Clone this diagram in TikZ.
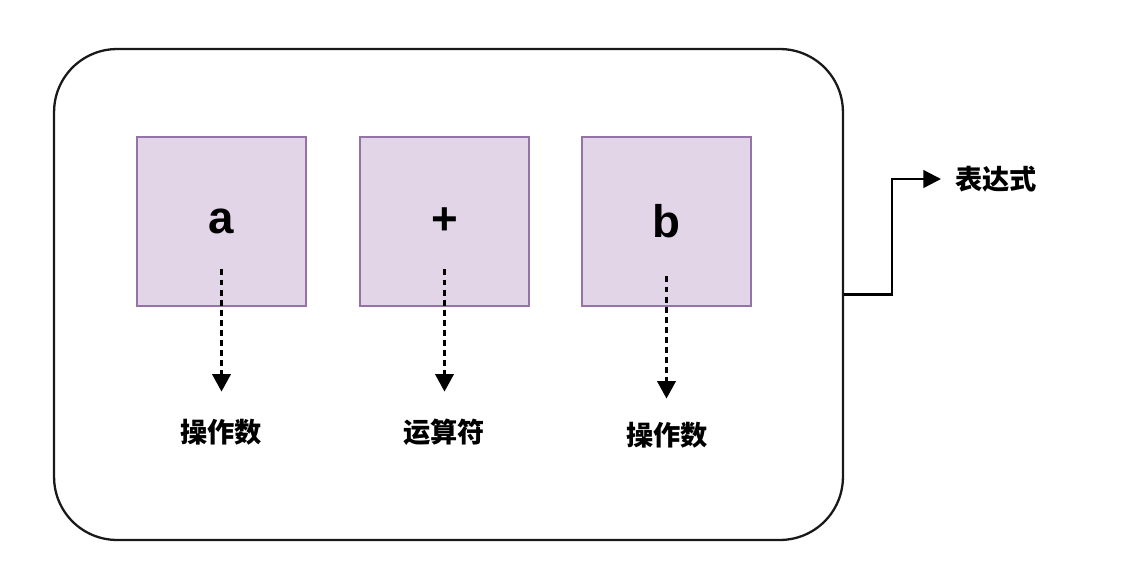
\documentclass[tikz,border=0pt]{standalone}
\usepackage{fontspec}
\setmainfont{Liberation Sans}
\newfontfamily\cjk{Noto Sans CJK SC}
\usetikzlibrary{arrows.meta}
\definecolor{boxfill}{HTML}{E1D5E7}
\definecolor{boxline}{HTML}{9673A6}
\tikzset{
  termbox/.style={draw=boxline, line width=0.7pt, fill=boxfill, minimum width=3.38cm,
    minimum height=3.38cm, inner sep=0pt, font=\fontsize{26}{30}\selectfont\bfseries},
  rolelabel/.style={inner sep=0pt, font=\cjk\bfseries\fontsize{15.5}{18}\selectfont},
  dasharrow/.style={line width=1.5pt, dash pattern=on 3.4pt off 2.3pt,
    -{Triangle[width=10.5pt,length=10pt]}},
  solidarrow/.style={line width=1.3pt, -{Triangle[width=10pt,length=10pt]}}
}
\begin{document}
\begin{tikzpicture}[x=0.02cm, y=-0.02cm]
  \useasboundingbox (0,0) rectangle (1126,579);
  % outer frame
  \node[draw=black!90, line width=1.3pt, rounded corners=1.26cm, minimum width=15.78cm,
    minimum height=9.82cm, inner sep=0pt] (frame) at (448.5,294.5) {};
  % operand / operator boxes
  \node[termbox] (a) at (221.5,221.5) {a};
  \node[termbox] (plus) at (444.5,221.5) {+};
  \node[termbox] (b) at (666.5,221.5) {b};
  % role labels
  \node[rolelabel] (opa) at (221,432) {操作数};
  \node[rolelabel] (opr) at (444,432) {运算符};
  \node[rolelabel] (opb) at (667,435) {操作数};
  % dashed arrows down to the labels
  \draw[dasharrow] ([yshift=-0.96cm]a.center) -- ([yshift=-1.7cm]a.south);
  \draw[dasharrow] ([yshift=-0.96cm]plus.center) -- ([yshift=-1.7cm]plus.south);
  \draw[dasharrow] ([yshift=-1.1cm]b.center) -- ([yshift=-1.84cm]b.south);
  % result
  \node[rolelabel, anchor=west] (expr) at (955,179) {表达式};
  \draw[solidarrow] (frame.east) -- ++(48,0) |- ([xshift=-0.28cm]expr.west);
\end{tikzpicture}
\end{document}
